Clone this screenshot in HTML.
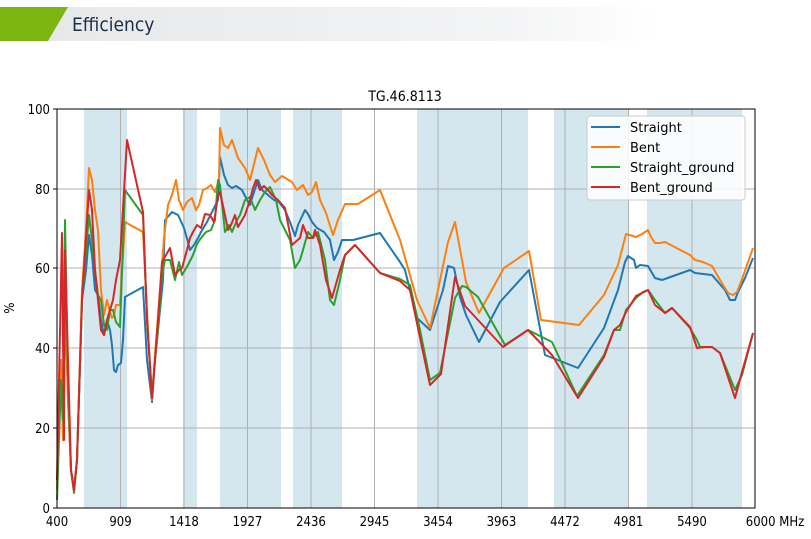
<!DOCTYPE html>
<html><head><meta charset="utf-8"><style>
body{margin:0;width:811px;height:535px;background:#fff;overflow:hidden;font-family:"DejaVu Sans Condensed","DejaVu Sans","Liberation Sans",sans-serif;}
</style></head><body>
<svg width="811" height="535" xmlns="http://www.w3.org/2000/svg" font-family="DejaVu Sans Condensed, DejaVu Sans, sans-serif">
<defs><linearGradient id="g" x1="0" x2="1"><stop offset="0" stop-color="#e6e8ea"/><stop offset="0.75" stop-color="#f3f4f5"/><stop offset="1" stop-color="#fff"/></linearGradient></defs>
<rect x="40" y="7" width="620" height="34" fill="url(#g)"/>
<polygon points="0,7 68,7 48,41 0,41" fill="#7db610"/>
<text x="72" y="31" font-family="DejaVu Sans Condensed, Liberation Sans, sans-serif" font-size="19" fill="#1c2f4a">Efficiency</text>
<text x="405" y="101" font-size="14" text-anchor="middle" fill="#000">TG.46.8113</text>
<g fill="#d4e7ef">
<rect x="84" y="109" width="43" height="399"/><rect x="183" y="109" width="14" height="399"/>
<rect x="220" y="109" width="61" height="399"/><rect x="293" y="109" width="49" height="399"/>
<rect x="417" y="109" width="111" height="399"/><rect x="554" y="109" width="74" height="399"/>
<rect x="647" y="109" width="95" height="399"/>
</g>
<g stroke="#b0b0b0" stroke-width="1">
<line x1="57" y1="428" x2="755" y2="428"/><line x1="57" y1="348" x2="755" y2="348"/>
<line x1="57" y1="268" x2="755" y2="268"/><line x1="57" y1="189" x2="755" y2="189"/>
<line x1="120.5" y1="109" x2="120.5" y2="508"/><line x1="184" y1="109" x2="184" y2="508"/>
<line x1="247.5" y1="109" x2="247.5" y2="508"/><line x1="311" y1="109" x2="311" y2="508"/>
<line x1="374.5" y1="109" x2="374.5" y2="508"/><line x1="438" y1="109" x2="438" y2="508"/>
<line x1="501.5" y1="109" x2="501.5" y2="508"/><line x1="565" y1="109" x2="565" y2="508"/>
<line x1="628.5" y1="109" x2="628.5" y2="508"/><line x1="692" y1="109" x2="692" y2="508"/>
</g>
<g fill="none" stroke-width="2" stroke-linejoin="round">
<polyline stroke="#1f77b4" points="57,490 61,360 63,440 65,290 68,400 71,470 74,490 77,460 82,300 86,270 89,235 92,255 95,290 98,295 101,320 104,335 107,320 110,330 112,345 114,370 116,372 118,365 121,363 123,340 125,297 143,287 147,360 152,402 155,360 158,330 163,280 165,220 172,212 178,215 184,228 188,242 190,250 194,245 198,238 201,232 207,222 212,212 218,200 220,157 224,175 228,185 232,188 236,186 242,190 247,200 250,205 254,192 258,180 262,190 268,195 274,200 279,202 285,210 290,222 295,236 298,225 305,210 308,214 312,222 317,228 324,232 330,240 334,260 338,252 342,240 353,240 380,233 400,262 405,270 417,318 430,330 443,290 448,266 454,268 460,297 466,315 479,342 500,302 529,270 545,355 578,368 604,328 618,290 625,262 628,256 634,260 636,268 640,265 648,266 655,278 662,280 690,270 695,273 712,275 725,290 730,300 735,300 738,292 745,278 753,258"/>
<polyline stroke="#ff7f0e" points="57,490 61,360 63,440 65,290 68,400 71,470 74,490 77,460 82,290 86,230 89,168 92,180 95,210 98,230 101,290 104,315 107,300 110,312 112,318 114,315 116,305 120,305 125,222 143,232 148,330 152,400 155,355 160,290 164,238 168,205 172,195 176,180 179,200 183,210 187,202 192,198 196,210 199,205 203,190 207,188 211,185 215,192 219,180 220,128 224,145 228,148 232,140 238,158 245,168 250,180 258,148 264,160 270,175 275,182 282,176 292,182 297,190 303,185 308,195 312,192 316,182 320,200 326,213 333,235 338,220 345,204 358,204 380,190 400,240 417,300 430,328 448,242 455,222 462,260 466,282 479,313 504,268 529,251 541,320 579,325 604,295 618,265 626,234 633,236 636,237 642,234 648,230 651,237 655,243 660,243 665,242 690,255 695,260 703,262 712,266 720,280 728,293 733,295 737,292 741,282 753,248"/>
<polyline stroke="#2ca02c" points="57,500 61,380 63,420 65,220 68,380 71,470 74,493 77,460 82,300 86,250 89,215 92,240 95,270 98,295 101,300 104,325 107,330 110,310 113,310 116,322 120,327 125,190 143,215 147,320 152,395 155,360 158,330 162,275 165,260 170,260 175,280 179,262 182,275 185,270 188,265 193,255 197,244 201,238 206,232 211,230 215,220 218,180 220,185 225,232 229,225 232,232 237,220 240,215 245,200 250,197 255,210 260,200 265,192 270,187 276,200 280,220 290,240 295,268 300,260 303,250 308,232 313,238 318,232 325,260 330,300 334,305 340,280 345,255 355,245 380,273 400,279 410,285 420,330 430,380 440,373 455,298 462,286 466,287 478,297 505,345 528,330 552,342 577,396 604,355 614,330 620,330 626,310 636,298 643,292 648,290 655,300 665,313 672,308 690,328 697,340 700,347 705,347 712,347 720,353 735,390 742,375 753,333"/>
<polyline stroke="#d62728" points="57,480 62,233 64,440 65,250 68,360 71,470 74,490 77,460 82,300 89,190 92,210 95,270 98,300 101,330 104,335 107,320 110,310 113,300 116,280 120,260 127,140 143,212 147,320 152,398 155,360 158,320 162,262 166,255 170,248 175,275 179,270 182,268 187,250 190,238 193,232 197,225 201,228 205,214 210,215 214,222 218,196 220,192 225,215 228,230 231,225 235,215 238,227 245,215 250,200 253,188 256,180 260,190 264,186 268,190 272,195 278,200 285,208 292,245 300,238 303,225 308,238 313,238 315,230 320,245 326,280 332,298 340,270 345,255 355,245 380,273 400,281 410,290 430,385 441,374 455,277 465,306 503,347 528,330 552,355 578,398 604,357 614,330 620,325 626,312 636,296 648,290 655,305 665,313 672,308 690,327 697,348 705,347 712,347 720,353 735,398 742,372 753,333"/>
</g>
<rect x="57" y="109" width="698" height="399" fill="none" stroke="#000" stroke-width="1"/>
<g stroke="#000"><line x1="53" y1="508" x2="57" y2="508"/><line x1="53" y1="428" x2="57" y2="428"/><line x1="53" y1="348" x2="57" y2="348"/><line x1="53" y1="268" x2="57" y2="268"/><line x1="53" y1="189" x2="57" y2="189"/><line x1="53" y1="109" x2="57" y2="109"/></g>
<g font-size="13" fill="#000" text-anchor="end">
<text x="50" y="513">0</text><text x="50" y="433">20</text><text x="50" y="353">40</text><text x="50" y="273">60</text><text x="50" y="194">80</text><text x="50" y="114">100</text>
</g>
<text x="14" y="308" font-size="13" transform="rotate(-90 14 308)" text-anchor="middle">%</text>
<g font-size="13" text-anchor="middle">
<text x="57" y="526">400</text><text x="120.5" y="526">909</text><text x="184" y="526">1418</text><text x="247.5" y="526">1927</text><text x="311" y="526">2436</text><text x="374.5" y="526">2945</text><text x="438" y="526">3454</text><text x="501.5" y="526">3963</text><text x="565" y="526">4472</text><text x="628.5" y="526">4981</text><text x="692" y="526">5490</text><text x="775" y="526">6000 MHz</text>
</g>
<rect x="587" y="116" width="158" height="84" rx="3" fill="#fff" fill-opacity="0.85" stroke="#ccc"/>
<g stroke-width="2"><line x1="591" y1="127" x2="620" y2="127" stroke="#1f77b4"/><line x1="591" y1="147" x2="620" y2="147" stroke="#ff7f0e"/><line x1="591" y1="167" x2="620" y2="167" stroke="#2ca02c"/><line x1="591" y1="187" x2="620" y2="187" stroke="#d62728"/></g>
<g font-size="13" font-family="DejaVu Sans, sans-serif"><text x="630" y="132">Straight</text><text x="630" y="152">Bent</text><text x="630" y="172">Straight_ground</text><text x="630" y="192">Bent_ground</text></g>
</svg>
</body></html>
